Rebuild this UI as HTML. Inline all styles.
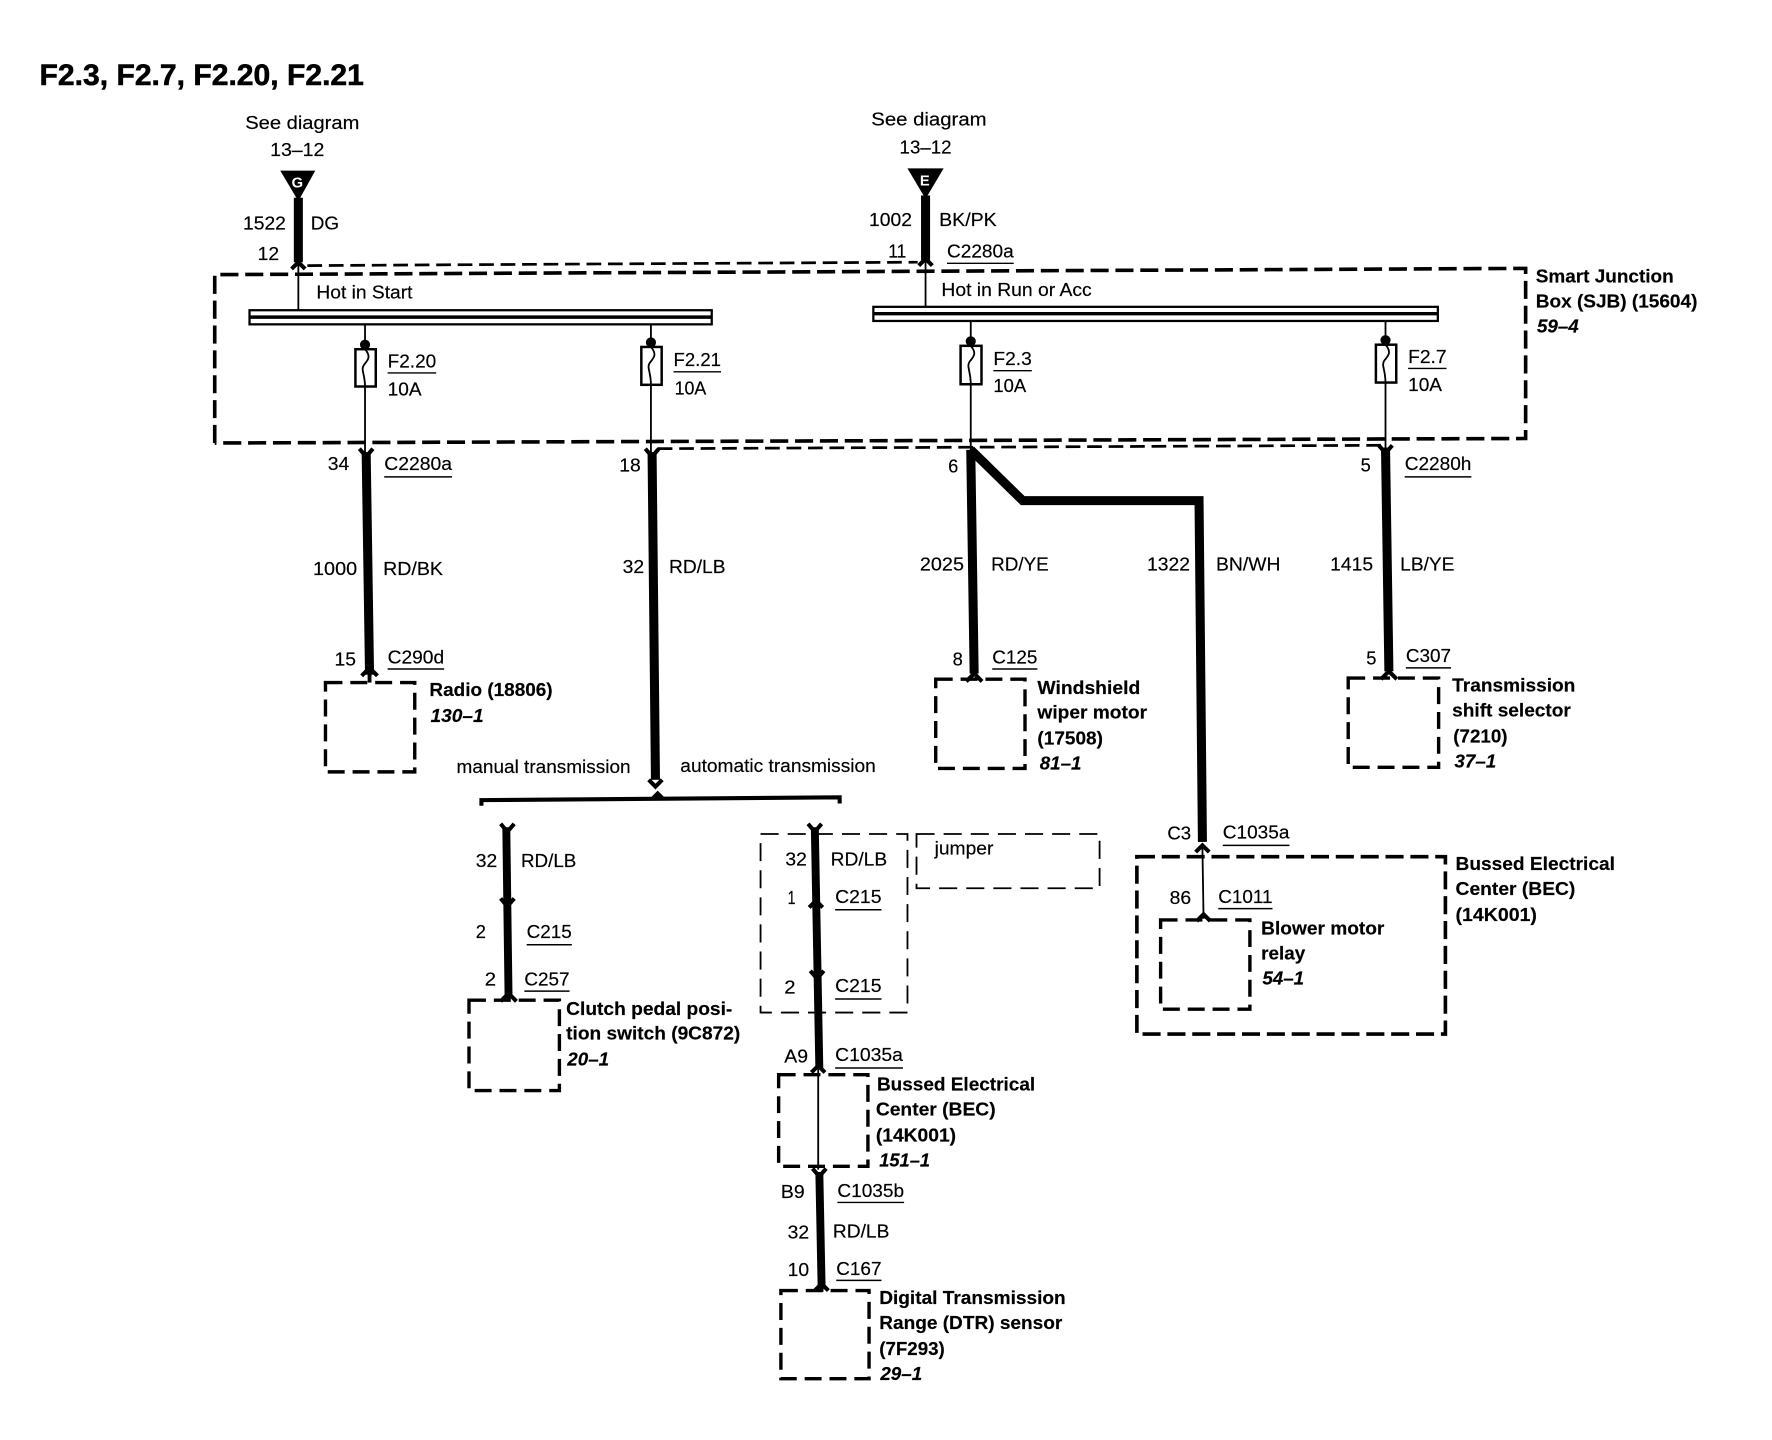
<!DOCTYPE html>
<html><head><meta charset="utf-8"><style>
html,body{margin:0;padding:0;background:#fff}
svg{display:block}
text{font-family:"Liberation Sans",sans-serif;font-size:16.5px;fill:#000;stroke:#000;stroke-width:.15}
.b{font-weight:bold}
.i{font-weight:bold;font-style:italic}
.t{font-weight:bold;font-size:26px;stroke-width:.5}
.w{fill:#fff;stroke:none;font-size:13px;font-weight:bold}
.ul{stroke:#000;stroke-width:1.3;fill:none}
.thick{stroke:#000;stroke-width:8;fill:none;stroke-linejoin:miter}
.thin{stroke:#000;stroke-width:1.6;fill:none}
.dash{stroke:#000;stroke-width:3.2;fill:none;stroke-dasharray:16 6}
.dashl{stroke:#000;stroke-width:3;fill:none;stroke-dasharray:15 7}
.dasht{stroke:#000;stroke-width:1.6;fill:none;stroke-dasharray:16 8}
.chev{stroke:#000;stroke-width:3.6;fill:none}
</style></head><body>
<svg width="1772" height="1440" viewBox="0 0 1568 1274.2" xmlns="http://www.w3.org/2000/svg">
<rect width="1568" height="1275" fill="#fff"/>
<text class="t" x="35" y="75" textLength="287" lengthAdjust="spacingAndGlyphs">F2.3, F2.7, F2.20, F2.21</text>

<!-- Feeds -->
<text x="217" y="114" textLength="101" lengthAdjust="spacingAndGlyphs">See diagram</text>
<text x="239" y="138" textLength="48" lengthAdjust="spacingAndGlyphs">13–12</text>
<polygon points="248,151 279,151 264,178" fill="#000"/>
<text class="w" x="258" y="166">G</text>
<path class="thick" d="M264,175V232"/>
<path class="chev" d="M258,238L264,232L270,238"/>
<path class="thin" d="M264,232V274"/>
<text x="215" y="203" textLength="38" lengthAdjust="spacingAndGlyphs">1522</text>
<text x="275" y="203" textLength="25" lengthAdjust="spacingAndGlyphs">DG</text>
<text x="228" y="230" textLength="19" lengthAdjust="spacingAndGlyphs">12</text>

<text x="771" y="111" textLength="102" lengthAdjust="spacingAndGlyphs">See diagram</text>
<text x="796" y="136" textLength="46" lengthAdjust="spacingAndGlyphs">13–12</text>
<polygon points="803,149 835,149 819,176" fill="#000"/>
<text class="w" x="814" y="164">E</text>
<path class="thick" d="M819,173V230"/>
<path class="chev" d="M813,235L819,229L825,235"/>
<path class="thin" d="M819,230V272"/>
<text x="769" y="200" textLength="38" lengthAdjust="spacingAndGlyphs">1002</text>
<text x="831" y="200" textLength="51" lengthAdjust="spacingAndGlyphs">BK/PK</text>
<text x="786" y="228" textLength="16" lengthAdjust="spacingAndGlyphs">11</text>
<text x="838" y="228" textLength="59" lengthAdjust="spacingAndGlyphs">C2280a</text>
<path class="ul" d="M838,233H897"/>

<!-- SJB -->
<path class="dash" d="M190,392V243L1350,237.5V388L190,392"/>
<path class="dasht" style="stroke-width:2.4;stroke-dasharray:13 6" d="M272,235L812,232"/>
<path class="dasht" style="stroke-width:2.4;stroke-dasharray:13 6" d="M582,397L1225,394"/>
<text class="b" x="1359" y="250" textLength="122" lengthAdjust="spacingAndGlyphs">Smart Junction</text>
<text class="b" x="1359" y="272" textLength="143" lengthAdjust="spacingAndGlyphs">Box (SJB) (15604)</text>
<text class="i" x="1360" y="294" textLength="37" lengthAdjust="spacingAndGlyphs">59–4</text>
<text x="280" y="264" textLength="85" lengthAdjust="spacingAndGlyphs">Hot in Start</text>
<text x="833" y="262" textLength="133" lengthAdjust="spacingAndGlyphs">Hot in Run or Acc</text>

<!-- Buses -->
<rect x="220.8" y="274.5" width="409" height="12.5" fill="#fff" stroke="#000" stroke-width="2"/>
<path d="M221,280.6H630" stroke="#000" stroke-width="3"/>
<rect x="772.8" y="271.5" width="499.5" height="12.5" fill="#fff" stroke="#000" stroke-width="2"/>
<path d="M773,277.6H1272" stroke="#000" stroke-width="3"/>

<!-- Fuses -->
<path class="thin" d="M323,287V309M323,342V400"/>
<circle cx="323" cy="305" r="4.5"/>
<rect x="314.5" y="309" width="18" height="33" fill="#fff" stroke="#000" stroke-width="2.2"/>
<path class="thin" d="M323,309c6,7 2,10 -1,14c-3,4 1,8 1,19"/>
<text x="343" y="325" textLength="43" lengthAdjust="spacingAndGlyphs">F2.20</text>
<path class="ul" d="M343,330H386"/>
<text x="343" y="350" textLength="30" lengthAdjust="spacingAndGlyphs">10A</text>

<path class="thin" d="M576,287V307M576,341V400"/>
<circle cx="576" cy="303" r="4.5"/>
<rect x="567.5" y="307" width="18" height="33.5" fill="#fff" stroke="#000" stroke-width="2.2"/>
<path class="thin" d="M576,307c6,7 2,10 -1,14c-3,4 1,8 1,19"/>
<text x="596" y="324" textLength="42" lengthAdjust="spacingAndGlyphs">F2.21</text>
<path class="ul" d="M596,329H638"/>
<text x="597" y="349" textLength="28" lengthAdjust="spacingAndGlyphs">10A</text>

<path class="thin" d="M859,284V306M859,340V400"/>
<circle cx="859" cy="302" r="4.5"/>
<rect x="850" y="306" width="18.5" height="34" fill="#fff" stroke="#000" stroke-width="2.2"/>
<path class="thin" d="M859,306c6,7 2,10 -1,14c-3,4 1,8 1,20"/>
<text x="879" y="323" textLength="34" lengthAdjust="spacingAndGlyphs">F2.3</text>
<path class="ul" d="M879,328H913"/>
<text x="879" y="347" textLength="29" lengthAdjust="spacingAndGlyphs">10A</text>

<path class="thin" d="M1226,284V305M1226,338V398"/>
<circle cx="1226" cy="301" r="4.5"/>
<rect x="1217.5" y="305" width="18" height="33.5" fill="#fff" stroke="#000" stroke-width="2.2"/>
<path class="thin" d="M1226,305c6,7 2,10 -1,14c-3,4 1,8 1,20"/>
<text x="1246" y="321" textLength="34" lengthAdjust="spacingAndGlyphs">F2.7</text>
<path class="ul" d="M1246,326H1280"/>
<text x="1246" y="346" textLength="30" lengthAdjust="spacingAndGlyphs">10A</text>

<!-- Radio -->
<path class="thick" d="M324,400L327,597"/>
<path class="chev" d="M318,397L324,404L330,397"/>
<path class="chev" d="M320,598L327,591L334,598"/>
<path class="thin" style="stroke-width:3.4" d="M327,595V604"/>
<text x="290" y="416" textLength="19" lengthAdjust="spacingAndGlyphs">34</text>
<text x="340" y="416" textLength="60" lengthAdjust="spacingAndGlyphs">C2280a</text>
<path class="ul" d="M340,422H400"/>
<text x="277" y="509" textLength="39" lengthAdjust="spacingAndGlyphs">1000</text>
<text x="339" y="509" textLength="53" lengthAdjust="spacingAndGlyphs">RD/BK</text>
<text x="296" y="589" textLength="19" lengthAdjust="spacingAndGlyphs">15</text>
<text x="343" y="587" textLength="50" lengthAdjust="spacingAndGlyphs">C290d</text>
<path class="ul" d="M343,592H393"/>
<rect class="dashl" x="288" y="604" width="79" height="79"/>
<text class="b" x="380" y="616" textLength="109" lengthAdjust="spacingAndGlyphs">Radio (18806)</text>
<text class="i" x="381" y="639" textLength="47" lengthAdjust="spacingAndGlyphs">130–1</text>

<!-- RD/LB trunk -->
<path class="thick" d="M577,400L580,690"/>
<path class="chev" d="M571,397L577,404L583,397"/>
<path class="chev" d="M574,690L580,696L586,690"/>
<text x="548" y="417" textLength="19" lengthAdjust="spacingAndGlyphs">18</text>
<text x="551" y="507" textLength="19" lengthAdjust="spacingAndGlyphs">32</text>
<text x="592" y="507" textLength="50" lengthAdjust="spacingAndGlyphs">RD/LB</text>
<text x="404" y="684" textLength="154" lengthAdjust="spacingAndGlyphs">manual transmission</text>
<text x="602" y="683" textLength="173" lengthAdjust="spacingAndGlyphs">automatic transmission</text>
<path d="M426,713V708L743,705.5V711" stroke="#000" stroke-width="3.6" fill="none"/>
<path d="M578,705L582,701L586,705Z" stroke="#000" stroke-width="2"/>

<!-- Manual -->
<path class="chev" d="M443,729L449,736L455,729"/>
<path class="thick" style="stroke-width:7" d="M448,732L450,882"/>
<path class="chev" d="M443,795L449,802L455,795"/>
<path class="chev" d="M443,886L450,879L457,886"/>
<path class="thin" style="stroke-width:3.4" d="M450,880V886"/>
<text x="421" y="767" textLength="19" lengthAdjust="spacingAndGlyphs">32</text>
<text x="461" y="767" textLength="49" lengthAdjust="spacingAndGlyphs">RD/LB</text>
<text x="421" y="830" textLength="9" lengthAdjust="spacingAndGlyphs">2</text>
<text x="466" y="830" textLength="40" lengthAdjust="spacingAndGlyphs">C215</text>
<path class="ul" d="M466,836H506"/>
<text x="429" y="872" textLength="10" lengthAdjust="spacingAndGlyphs">2</text>
<text x="464" y="872" textLength="40" lengthAdjust="spacingAndGlyphs">C257</text>
<path class="ul" d="M464,877H504"/>
<rect class="dashl" x="415" y="885" width="80" height="80"/>
<text class="b" x="501" y="898" textLength="147" lengthAdjust="spacingAndGlyphs">Clutch pedal posi-</text>
<text class="b" x="501" y="920" textLength="154" lengthAdjust="spacingAndGlyphs">tion switch (9C872)</text>
<text class="i" x="502" y="943" textLength="37" lengthAdjust="spacingAndGlyphs">20–1</text>

<!-- Automatic -->
<path class="chev" d="M715,729L721,736L727,729"/>
<path class="thick" style="stroke-width:7" d="M721,732L725,945"/>
<rect class="dasht" x="673" y="738" width="130" height="158"/>
<rect class="dasht" x="811" y="738" width="162" height="48"/>
<text x="827" y="756" textLength="52" lengthAdjust="spacingAndGlyphs">jumper</text>
<text x="695" y="766" textLength="19" lengthAdjust="spacingAndGlyphs">32</text>
<text x="735" y="766" textLength="50" lengthAdjust="spacingAndGlyphs">RD/LB</text>
<text x="697" y="800" textLength="7" lengthAdjust="spacingAndGlyphs">1</text>
<text x="739" y="799" textLength="41" lengthAdjust="spacingAndGlyphs">C215</text>
<path class="ul" d="M739,805H780"/>
<path class="chev" d="M716,803L722,797L728,803"/>
<path class="chev" d="M717,859L723,866L729,859"/>
<text x="694" y="879" textLength="10" lengthAdjust="spacingAndGlyphs">2</text>
<text x="739" y="878" textLength="41" lengthAdjust="spacingAndGlyphs">C215</text>
<path class="ul" d="M739,884H780"/>
<text x="694" y="940" textLength="21" lengthAdjust="spacingAndGlyphs">A9</text>
<text x="739" y="939" textLength="60" lengthAdjust="spacingAndGlyphs">C1035a</text>
<path class="ul" d="M739,945H799"/>
<path class="chev" d="M718,949L724,943L730,949"/>
<path class="thin" d="M724,945V1035"/>
<rect class="dashl" x="689" y="951" width="79" height="81"/>
<text class="b" x="776" y="965" textLength="140" lengthAdjust="spacingAndGlyphs">Bussed Electrical</text>
<text class="b" x="775" y="987" textLength="106" lengthAdjust="spacingAndGlyphs">Center (BEC)</text>
<text class="b" x="775" y="1010" textLength="71" lengthAdjust="spacingAndGlyphs">(14K001)</text>
<text class="i" x="778" y="1032" textLength="45" lengthAdjust="spacingAndGlyphs">151–1</text>
<path class="chev" d="M719,1034L725,1041L731,1034"/>
<path class="thick" style="stroke-width:7" d="M725,1037L727,1138"/>
<path class="chev" d="M721,1142L727,1136L733,1142"/>
<path class="thin" style="stroke-width:3.4" d="M727,1138V1143"/>
<text x="691" y="1060" textLength="21" lengthAdjust="spacingAndGlyphs">B9</text>
<text x="741" y="1059" textLength="59" lengthAdjust="spacingAndGlyphs">C1035b</text>
<path class="ul" d="M741,1064H800"/>
<text x="697" y="1096" textLength="19" lengthAdjust="spacingAndGlyphs">32</text>
<text x="737" y="1095" textLength="50" lengthAdjust="spacingAndGlyphs">RD/LB</text>
<text x="697" y="1129" textLength="19" lengthAdjust="spacingAndGlyphs">10</text>
<text x="740" y="1128" textLength="40" lengthAdjust="spacingAndGlyphs">C167</text>
<path class="ul" d="M740,1133H780"/>
<rect class="dashl" x="691" y="1142" width="78" height="78"/>
<text class="b" x="778" y="1154" textLength="165" lengthAdjust="spacingAndGlyphs">Digital Transmission</text>
<text class="b" x="778" y="1176" textLength="162" lengthAdjust="spacingAndGlyphs">Range (DTR) sensor</text>
<text class="b" x="778" y="1199" textLength="58" lengthAdjust="spacingAndGlyphs">(7F293)</text>
<text class="i" x="779" y="1221" textLength="37" lengthAdjust="spacingAndGlyphs">29–1</text>

<!-- F2.3 branches -->
<path class="thick" d="M859,398L862,596"/>
<path class="chev" d="M855,603L862,596L869,603"/>
<path class="thick" d="M859,398L905,443H1061L1064,745"/>
<text x="839" y="418" textLength="9" lengthAdjust="spacingAndGlyphs">6</text>
<text x="814" y="505" textLength="39" lengthAdjust="spacingAndGlyphs">2025</text>
<text x="877" y="505" textLength="51" lengthAdjust="spacingAndGlyphs">RD/YE</text>
<text x="843" y="589" textLength="9" lengthAdjust="spacingAndGlyphs">8</text>
<text x="878" y="587" textLength="40" lengthAdjust="spacingAndGlyphs">C125</text>
<path class="ul" d="M878,592H918"/>
<rect class="dashl" x="828" y="601" width="79" height="79"/>
<text class="b" x="918" y="614" textLength="91" lengthAdjust="spacingAndGlyphs">Windshield</text>
<text class="b" x="918" y="636" textLength="97" lengthAdjust="spacingAndGlyphs">wiper motor</text>
<text class="b" x="918" y="659" textLength="58" lengthAdjust="spacingAndGlyphs">(17508)</text>
<text class="i" x="920" y="681" textLength="37" lengthAdjust="spacingAndGlyphs">81–1</text>

<text x="1015" y="505" textLength="38" lengthAdjust="spacingAndGlyphs">1322</text>
<text x="1076" y="505" textLength="57" lengthAdjust="spacingAndGlyphs">BN/WH</text>
<text x="1033" y="743" textLength="21" lengthAdjust="spacingAndGlyphs">C3</text>
<text x="1082" y="742" textLength="59" lengthAdjust="spacingAndGlyphs">C1035a</text>
<path class="ul" d="M1082,748H1141"/>
<path class="chev" d="M1058,754L1064,748L1070,754"/>
<path class="thin" d="M1064,750L1065,813"/>
<rect class="dash" x="1006" y="758" width="273" height="157"/>
<text class="b" x="1288" y="770" textLength="141" lengthAdjust="spacingAndGlyphs">Bussed Electrical</text>
<text class="b" x="1288" y="792" textLength="106" lengthAdjust="spacingAndGlyphs">Center (BEC)</text>
<text class="b" x="1288" y="815" textLength="72" lengthAdjust="spacingAndGlyphs">(14K001)</text>
<text x="1035" y="800" textLength="19" lengthAdjust="spacingAndGlyphs">86</text>
<text x="1078" y="799" textLength="48" lengthAdjust="spacingAndGlyphs">C1011</text>
<path class="ul" d="M1078,804H1126"/>
<path class="chev" d="M1059,815L1065,809L1071,815"/>
<rect class="dashl" x="1027" y="814" width="79" height="79"/>
<text class="b" x="1116" y="827" textLength="109" lengthAdjust="spacingAndGlyphs">Blower motor</text>
<text class="b" x="1116" y="849" textLength="39" lengthAdjust="spacingAndGlyphs">relay</text>
<text class="i" x="1117" y="871" textLength="37" lengthAdjust="spacingAndGlyphs">54–1</text>

<!-- F2.7 -->
<path class="thick" d="M1226,396L1229,594"/>
<path class="chev" d="M1220,394L1226,401L1232,394"/>
<path class="chev" d="M1222,601L1229,594L1236,601"/>
<text x="1204" y="417" textLength="9" lengthAdjust="spacingAndGlyphs">5</text>
<text x="1243" y="416" textLength="59" lengthAdjust="spacingAndGlyphs">C2280h</text>
<path class="ul" d="M1243,422H1302"/>
<text x="1177" y="505" textLength="38" lengthAdjust="spacingAndGlyphs">1415</text>
<text x="1239" y="505" textLength="48" lengthAdjust="spacingAndGlyphs">LB/YE</text>
<text x="1209" y="588" textLength="9" lengthAdjust="spacingAndGlyphs">5</text>
<text x="1244" y="586" textLength="40" lengthAdjust="spacingAndGlyphs">C307</text>
<path class="ul" d="M1244,591H1284"/>
<rect class="dashl" x="1193" y="600" width="80" height="79"/>
<text class="b" x="1285" y="612" textLength="109" lengthAdjust="spacingAndGlyphs">Transmission</text>
<text class="b" x="1285" y="634" textLength="105" lengthAdjust="spacingAndGlyphs">shift selector</text>
<text class="b" x="1286" y="657" textLength="48" lengthAdjust="spacingAndGlyphs">(7210)</text>
<text class="i" x="1287" y="679" textLength="37" lengthAdjust="spacingAndGlyphs">37–1</text>
</svg>
</body></html>
